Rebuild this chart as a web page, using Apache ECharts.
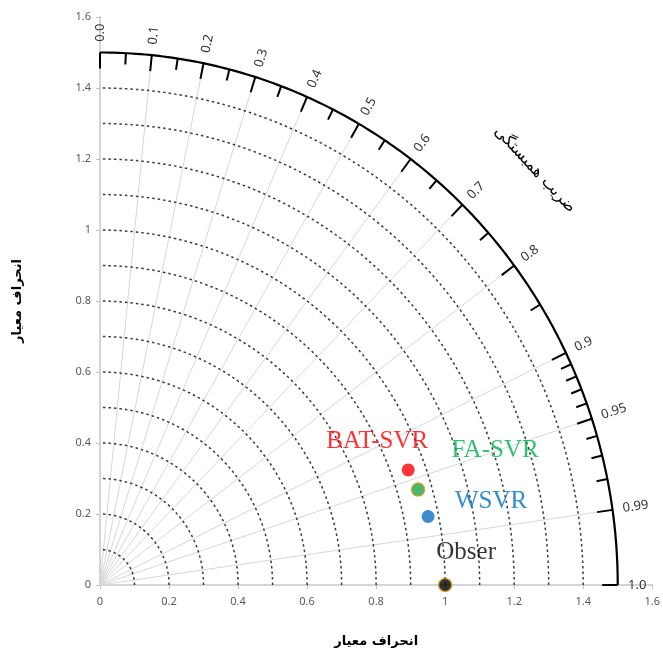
<!DOCTYPE html>
<html lang="fa">
<head>
    <meta charset="UTF-8">
    <title>taylor</title>
    <style>
        html, body { margin: 0; padding: 0; background: #fff; }
        #main { width: 663px; height: 653px; }
    </style>
</head>
<body>
    <div id="main"></div>
    <script src="https://cdn.jsdelivr.net/npm/echarts@6/dist/echarts.min.js"></script>
    <script>
        // dotted standard deviation arcs
        const stdArcs = [0.1, 0.2, 0.3, 0.4, 0.5, 0.6, 0.7, 0.8, 0.9, 1.0, 1.1, 1.2, 1.3, 1.4];
        const outerStd = 1.5;
        // correlation scale on the outer arc
        const corrTicks = [0, 0.1, 0.2, 0.3, 0.4, 0.5, 0.6, 0.7, 0.8, 0.9, 0.95, 0.99, 1.0];
        const corrLabels = ['0.0', '0.1', '0.2', '0.3', '0.4', '0.5', '0.6', '0.7', '0.8', '0.9', '0.95', '0.99', '1.0'];
        const corrMinor = [0.05, 0.15, 0.25, 0.35, 0.45, 0.55, 0.65, 0.75, 0.85, 0.91, 0.92, 0.93, 0.94, 0.96, 0.97, 0.98];
        // models
        const models = ['BAT-SVR', 'FA-SVR', 'WSVR', 'Obser'];
        const modelStd = [0.95, 0.96, 0.97, 1.0];
        const modelCorr = [0.94, 0.96, 0.98, 1.0];

        const modelColors = ['#ff0000', '#1aa64a', '#0b6fc2', '#000000'];
        const labelColors = ['#ff0000', '#00b050', '#0070c0', '#000000'];
        const labelOffsets = [[-31, -29], [77, -39], [63, -15], [21, -33]];

        const toXY = (s, c) => [s * c, s * Math.sqrt(Math.max(0, 1 - c * c))];

        const myChart = echarts.init(document.getElementById('main'));

        const axisCommon = {
            type: 'value',
            min: 0,
            max: 1.6,
            interval: 0.2,
            splitLine: { show: false },
            axisLine: { show: true, lineStyle: { color: '#d4d4d4', width: 2 } },
            axisTick: { show: true, length: 4, lineStyle: { color: '#bfbfbf' } },
            axisLabel: { color: '#595959', fontSize: 11, fontFamily: 'Noto Sans' },
            nameLocation: 'middle',
            nameTextStyle: { color: '#000', fontSize: 13, fontWeight: 'bold', fontFamily: 'DejaVu Sans' }
        };

        let option = {
            animation: false,
            grid: { left: 100, right: 6, top: 17, bottom: 65 },
            xAxis: Object.assign({}, axisCommon, {
                name: 'انحراف معیار',
                nameGap: 50,
                axisLabel: Object.assign({}, axisCommon.axisLabel, { margin: 11 })
            }),
            yAxis: Object.assign({}, axisCommon, {
                name: 'انحراف معیار',
                nameGap: 76,
                nameRotate: 90,
                axisLabel: Object.assign({}, axisCommon.axisLabel, { margin: 9 })
            }),
            series: [
                {
                    // radial correlation lines
                    type: 'custom',
                    silent: true,
                    z: 1,
                    data: corrTicks.slice(1, -1).map(c => [c, 0]),
                    renderItem: function (params, api) {
                        const c = api.value(0);
                        const p0 = api.coord([0, 0]);
                        const p1 = api.coord(toXY(outerStd, c));
                        return {
                            type: 'line',
                            shape: { x1: p0[0], y1: p0[1], x2: p1[0], y2: p1[1] },
                            style: { stroke: '#d6d6d6', lineWidth: 1 }
                        };
                    }
                },
                {
                    // dotted std arcs
                    type: 'custom',
                    silent: true,
                    z: 2,
                    data: stdArcs.map(s => [s, 0]),
                    renderItem: function (params, api) {
                        const s = api.value(0);
                        let pts = [];
                        for (let a = 0; a <= 90; a += 1) {
                            const t = a * Math.PI / 180;
                            pts.push(api.coord([s * Math.cos(t), s * Math.sin(t)]));
                        }
                        return {
                            type: 'polyline',
                            shape: { points: pts },
                            style: { stroke: '#3a3a3a', fill: null, lineWidth: 1.5, lineDash: [2.5, 3] }
                        };
                    }
                },
                {
                    // outer arc
                    type: 'custom',
                    silent: true,
                    z: 3,
                    data: [[outerStd, 0]],
                    renderItem: function (params, api) {
                        const s = api.value(0);
                        let pts = [];
                        for (let a = 0; a <= 180; a += 1) {
                            const t = a * Math.PI / 360;
                            pts.push(api.coord([s * Math.cos(t), s * Math.sin(t)]));
                        }
                        return {
                            type: 'polyline',
                            shape: { points: pts },
                            style: { stroke: '#000', fill: null, lineWidth: 2.2 }
                        };
                    }
                },
                {
                    // major ticks + labels
                    type: 'custom',
                    silent: true,
                    z: 3,
                    data: corrTicks.map((c, i) => [c, i]),
                    renderItem: function (params, api) {
                        const c = api.value(0);
                        const i = api.value(1);
                        const p0 = api.coord(toXY(outerStd, c));
                        const p1 = api.coord(toXY(outerStd - 0.045, c));
                        const pl = api.coord(toXY(outerStd + 0.03, c));
                        const theta = Math.acos(c);
                        return {
                            type: 'group',
                            children: [
                                {
                                    type: 'line',
                                    shape: { x1: p0[0], y1: p0[1], x2: p1[0], y2: p1[1] },
                                    style: { stroke: '#000', lineWidth: 2 }
                                },
                                {
                                    type: 'text',
                                    x: pl[0],
                                    y: pl[1],
                                    rotation: theta,
                                    style: {
                                        text: corrLabels[i],
                                        fill: '#333',
                                        font: '13px "Noto Sans"',
                                        align: 'left',
                                        verticalAlign: 'middle'
                                    }
                                }
                            ]
                        };
                    }
                },
                {
                    // minor ticks
                    type: 'custom',
                    silent: true,
                    z: 3,
                    data: corrMinor.map(c => [c, 0]),
                    renderItem: function (params, api) {
                        const c = api.value(0);
                        const p0 = api.coord(toXY(outerStd, c));
                        const p1 = api.coord(toXY(outerStd - 0.032, c));
                        return {
                            type: 'line',
                            shape: { x1: p0[0], y1: p0[1], x2: p1[0], y2: p1[1] },
                            style: { stroke: '#000', lineWidth: 2 }
                        };
                    }
                },
                {
                    // correlation title
                    type: 'custom',
                    silent: true,
                    z: 3,
                    data: [[1.26, 1.17]],
                    renderItem: function (params, api) {
                        const p = api.coord([api.value(0), api.value(1)]);
                        return {
                            type: 'text',
                            x: p[0],
                            y: p[1],
                            rotation: -47 * Math.PI / 180,
                            style: {
                                text: 'ضریب همبستگی',
                                fill: '#000',
                                font: '16px "DejaVu Sans"',
                                align: 'center',
                                verticalAlign: 'middle'
                            }
                        };
                    }
                },
                {
                    type: 'scatter',
                    z: 5,
                    symbolSize: 13,
                    data: models.map((m, i) => ({
                        name: m,
                        value: toXY(modelStd[i], modelCorr[i]),
                        itemStyle: {
                            color: modelColors[i],
                            borderColor: i === 1 || i === 3 ? '#c99a1c' : modelColors[i],
                            borderWidth: i === 1 || i === 3 ? 1.5 : 0
                        },
                        label: {
                            show: true,
                            formatter: m,
                            position: 'inside',
                            offset: labelOffsets[i],
                            color: labelColors[i],
                            fontSize: 25,
                            fontFamily: 'Liberation Serif'
                        }
                    }))
                }
            ]
        };

        myChart.setOption(option);
    </script>
</body>
</html>
